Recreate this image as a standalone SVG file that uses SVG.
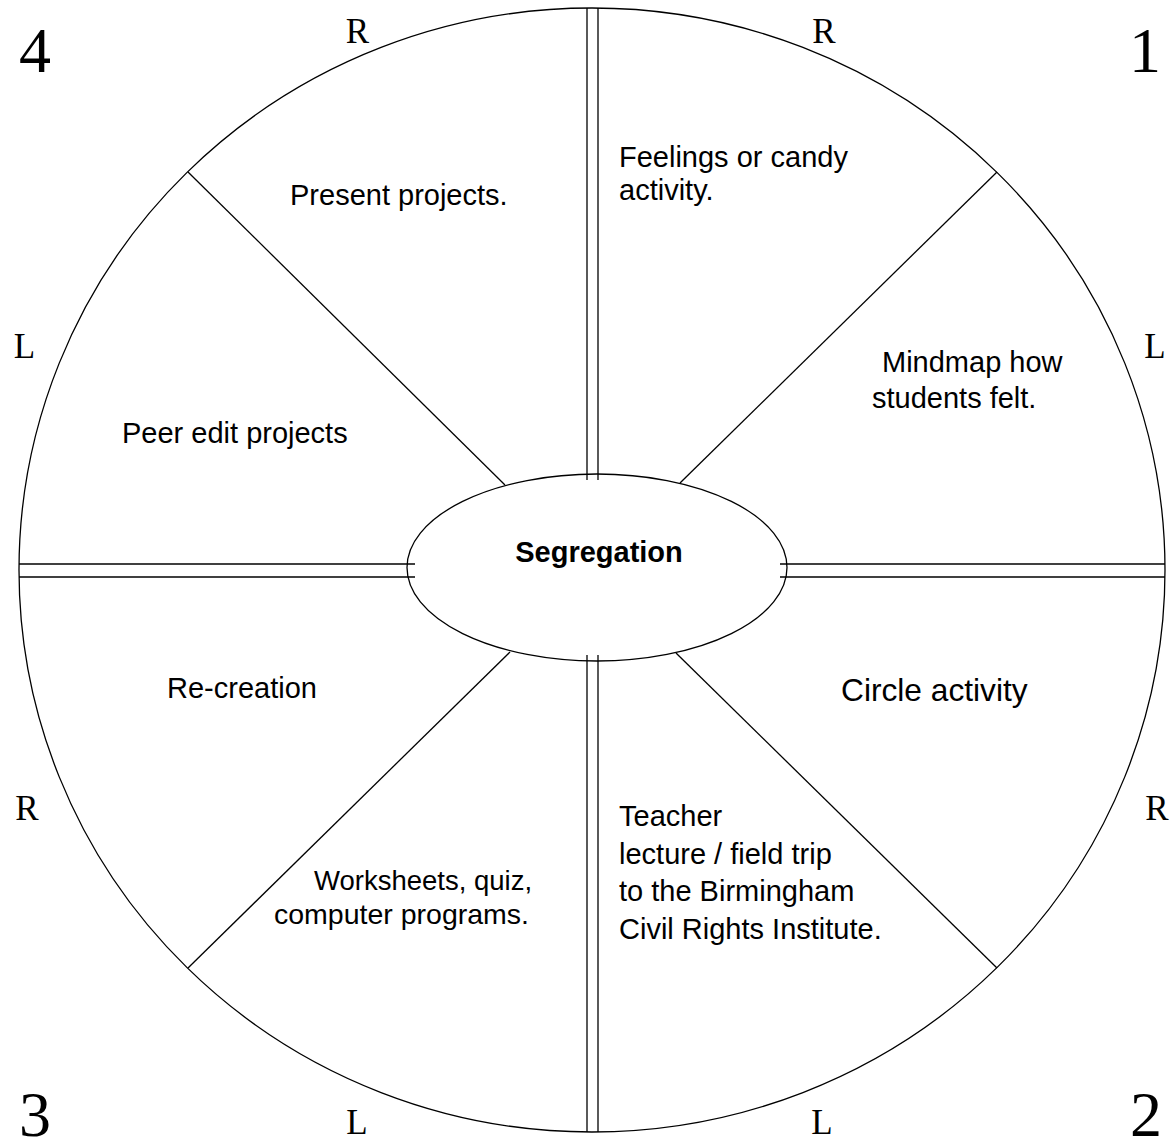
<svg xmlns="http://www.w3.org/2000/svg" width="1172" height="1140" viewBox="0 0 1172 1140">
<style>
.ln{stroke:#000;stroke-width:1.3;fill:none}
.t{font-family:"Liberation Sans",Arial,sans-serif;font-size:29px;fill:#000}
.tm{font-family:"Liberation Serif","Times New Roman",serif;font-size:35px;fill:#000}
.dg{font-family:"Liberation Serif","Times New Roman",serif;font-size:64px;fill:#000}
</style>
<rect width="1172" height="1140" fill="#fff"/>
<g id="wheel">
<ellipse cx="592" cy="570" rx="573" ry="562" class="ln" fill="#fff"/>
</g>
<g id="connectors">
<line class="ln" x1="587" y1="8" x2="587" y2="480"/>
<line class="ln" x1="598" y1="8" x2="598" y2="480"/>
<line class="ln" x1="587" y1="655" x2="587" y2="1132"/>
<line class="ln" x1="598" y1="655" x2="598" y2="1132"/>
<line class="ln" x1="19" y1="564" x2="415" y2="564"/>
<line class="ln" x1="19" y1="577" x2="415" y2="577"/>
<line class="ln" x1="780" y1="564" x2="1165" y2="564"/>
<line class="ln" x1="780" y1="577" x2="1165" y2="577"/>
<line class="ln" x1="188" y1="172" x2="505" y2="485"/>
<line class="ln" x1="997" y1="172" x2="680" y2="483"/>
<line class="ln" x1="188" y1="968" x2="510" y2="652"/>
<line class="ln" x1="997" y1="968" x2="676" y2="653"/>
</g>
<g id="center">
<ellipse cx="597" cy="567.5" rx="190" ry="93.5" class="ln" fill="#fff"/>
<text x="599" y="562" text-anchor="middle" font-family="Liberation Sans, Arial, sans-serif" font-size="29" font-weight="bold">Segregation</text>
</g>
<g id="seg-present"><text class="t" x="290" y="205">Present projects.</text></g>
<g id="seg-feelings"><text class="t" x="619" y="167">Feelings or candy</text><text class="t" x="619" y="200">activity.</text></g>
<g id="seg-mindmap"><text class="t" x="882" y="372">Mindmap how</text><text class="t" x="872" y="408">students felt.</text></g>
<g id="seg-peer"><text class="t" x="122" y="443">Peer edit projects</text></g>
<g id="seg-recreation"><text class="t" x="167" y="698">Re-creation</text></g>
<g id="seg-circle"><text class="t" x="841" y="701" style="font-size:31.7px">Circle activity</text></g>
<g id="seg-worksheets"><text class="t" x="314" y="890" style="font-size:27.5px">Worksheets, quiz,</text><text class="t" x="274" y="924" style="font-size:28.5px">computer programs.</text></g>
<g id="seg-teacher">
<text class="t" x="619" y="826">Teacher</text>
<text class="t" x="619" y="864">lecture / field trip</text>
<text class="t" x="619" y="901">to the Birmingham</text>
<text class="t" x="619" y="939">Civil Rights Institute.</text>
</g>
<g id="labels">
<text class="tm" x="357.5" y="43" text-anchor="middle">R</text>
<text class="tm" x="824" y="43" text-anchor="middle">R</text>
<text class="tm" x="24.5" y="358" text-anchor="middle">L</text>
<text class="tm" x="1155" y="358" text-anchor="middle">L</text>
<text class="tm" x="27" y="820" text-anchor="middle">R</text>
<text class="tm" x="1157" y="820" text-anchor="middle">R</text>
<text class="tm" x="357" y="1134" text-anchor="middle">L</text>
<text class="tm" x="822" y="1134" text-anchor="middle">L</text>
<text class="dg" x="19" y="72">4</text>
<text class="dg" x="1145" y="72" text-anchor="middle">1</text>
<text class="dg" x="19" y="1136">3</text>
<text class="dg" x="1146" y="1136" text-anchor="middle">2</text>
</g>
</svg>
